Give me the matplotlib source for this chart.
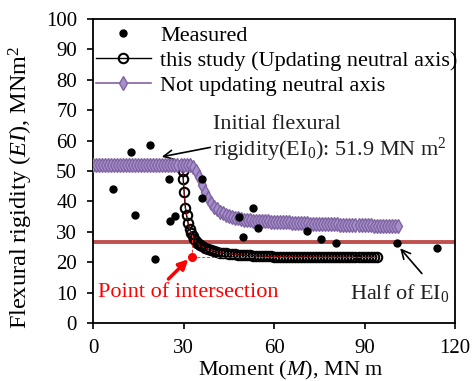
import matplotlib
matplotlib.use("Agg")
import matplotlib.pyplot as plt

plt.rcParams["font.family"] = ["Liberation Serif", "DejaVu Serif"]
plt.rcParams["mathtext.fontset"] = "custom"
plt.rcParams["mathtext.rm"] = "Liberation Serif"
plt.rcParams["mathtext.it"] = "Liberation Serif:italic"
plt.rcParams["font.size"] = 16

# measured points (moment, rigidity)
meas_x = [6.7, 12.6, 18.9, 13.9, 25.1, 25.5, 27.3, 20.7, 36.0, 36.0,
          48.4, 53.1, 54.8, 49.8, 71.0, 75.6, 80.5, 100.6, 113.9]
meas_y = [44.0, 56.2, 58.6, 35.6, 47.5, 33.6, 35.3, 21.2, 47.5, 41.0,
          35.0, 38.0, 31.4, 28.3, 30.3, 27.8, 26.4, 26.5, 24.7]

# this study (updating neutral axis)
study_x = [0, 4, 8, 12, 16, 20, 24, 27, 29.5, 29.8, 29.9, 30.2, 30.6, 31.0, 31.5, 32.0, 32.5,
           33, 33.5, 34, 34.5, 35, 35.5, 36, 37, 38, 39, 40, 41, 42, 43, 44, 45, 46, 47, 48, 49, 50,
           51, 52, 53, 54, 55, 56, 57, 58, 59, 60, 61, 62, 63, 64, 65, 66, 67, 68,
           69, 70, 71, 72, 73, 74, 75, 76, 77, 78, 79, 80, 81, 82, 83, 84, 85, 86,
           87, 88, 89, 90, 91, 92, 93, 94]
study_y = [51.9, 51.9, 51.9, 51.9, 51.9, 51.9, 51.9, 51.9, 51.9, 50.0, 47.5, 43.0, 38.0, 35.5, 33.0, 31.0, 29.6,
           28.5, 27.7, 27.0, 26.5, 26.0, 25.6, 25.3, 24.7, 24.3, 24.0, 23.7, 23.4, 23.2, 23.0, 22.9, 22.8, 22.7, 22.6, 22.5, 22.4, 22.35,
           22.3, 22.25, 22.2, 22.15, 22.1, 22.05, 22.0, 22.0, 21.95, 21.9, 21.9, 21.9, 21.85, 21.85, 21.85, 21.8, 21.8, 21.8,
           21.8, 21.8, 21.75, 21.75, 21.75, 21.75, 21.75, 21.7, 21.7, 21.7, 21.7, 21.7, 21.7, 21.7, 21.7, 21.7, 21.65, 21.65,
           21.65, 21.65, 21.65, 21.65, 21.65, 21.65, 21.65, 21.65]

# not updating neutral axis
plain_x = list(range(0, 102))
plain_y = [52.0] * 33 + [
    51.5, 50.0, 48.0, 45.5, 43.0, 41.0, 39.5, 38.3, 37.4, 36.7,
    36.1, 35.6, 35.2, 34.9, 34.6, 34.4, 34.2, 34.0, 33.9, 33.8,
    33.7, 33.65, 33.6, 33.55, 33.5, 33.45, 33.4, 33.35, 33.3, 33.25,
    33.2, 33.15, 33.1, 33.05, 33.0, 32.95, 32.9, 32.85, 32.8, 32.75,
    32.7, 32.7, 32.65, 32.6, 32.6, 32.55, 32.5, 32.5, 32.45, 32.4,
    32.4, 32.35, 32.3, 32.3, 32.25, 32.2, 32.2, 32.15, 32.1, 32.1,
    32.05, 32.0, 32.0, 31.95, 31.9, 31.9, 31.85, 31.85, 31.8]

EI0 = 51.9
half_EI0 = 26.8
cross_x, cross_y = 32.7, 21.9

fig = plt.figure(figsize=(4.77, 3.81), dpi=100)
ax = fig.add_axes([0.195, 0.152, 0.759, 0.798])

ax.axhline(half_EI0, color="#C0504D", lw=2.8, zorder=1)
ax.plot(meas_x, meas_y, "o", color="black", ms=5, ls="none", label="Measured", zorder=5)
ax.plot(study_x, study_y, "-o", color="black", lw=1, ms=6.8, mfc="none", mew=1.5,
        label="this study (Updating neutral axis)", zorder=3)
ax.plot(study_x, study_y, "--", color="#C00000", lw=0.7, dashes=(3, 2), zorder=4)
ax.plot(plain_x, plain_y, "-d", color="#8064A2", lw=1.2, ms=7.5, mfc="#A590CC", mec="#8064A2",
        mew=1.0, label="Not updating neutral axis", zorder=4)

# point of intersection with guide lines
ax.plot([cross_x, cross_x], [cross_y, 29.6], "--", color="#FF3030", lw=0.7, dashes=(3, 2), zorder=4)
ax.plot([cross_x, study_x[-1]], [cross_y, cross_y], "--", color="#FF3030", lw=0.7, dashes=(3, 2), zorder=4)
ax.plot(cross_x, cross_y, "o", color="red", ms=5.5, zorder=6)

ax.annotate("Initial flexural\nrigidity($\\mathrm{EI}_0$): 51.9 MN m$^2$", xy=(22.8, 54.7), xytext=(39.8, 60.4),
            ha="left", va="center", color="#202020", linespacing=1.1,
            arrowprops=dict(arrowstyle="->", color="black", lw=1.2, shrinkA=0, shrinkB=0,
                            relpos=(0.0, 0.35)))
ax.annotate("", xy=(31.6, 21.0), xytext=(25.0, 14.5),
            arrowprops=dict(arrowstyle="-|>", color="red", lw=2.5, mutation_scale=14,
                            shrinkA=0, shrinkB=0))
ax.text(1.6, 9.9, "Point of intersection", color="red", ha="left", va="center")
ax.annotate("", xy=(101.8, 24.6), xytext=(109.0, 16.3),
            arrowprops=dict(arrowstyle="->", color="black", lw=1.2, shrinkA=0, shrinkB=0))
ax.text(118, 9.9, "Half of $\\mathrm{EI}_0$", color="#202020", ha="right", va="center")

ax.set_xlim(0, 120)
ax.set_ylim(0, 100)
ax.set_xticks([0, 30, 60, 90, 120])
ax.set_yticks(range(0, 101, 10))
ax.tick_params(direction="out", length=4.5, width=1.2, labelsize=15, pad=7)
for s in ax.spines.values():
    s.set_linewidth(1.3)
ax.set_xlabel("Moment ($M$), MN m")
ax.set_ylabel("Flexural rigidity ($EI$), MNm$^2$", fontsize=17.5)
ax.xaxis.set_label_coords(0.547, -0.118)
ax.yaxis.set_label_coords(-0.16, 0.447)

ax.legend(loc="upper left", bbox_to_anchor=(-0.005, 0.995), frameon=False, handlelength=2.5,
          handletextpad=0.4, labelspacing=0.2, borderaxespad=0.0, borderpad=0.2)

fig.savefig("out.png", dpi=100)
